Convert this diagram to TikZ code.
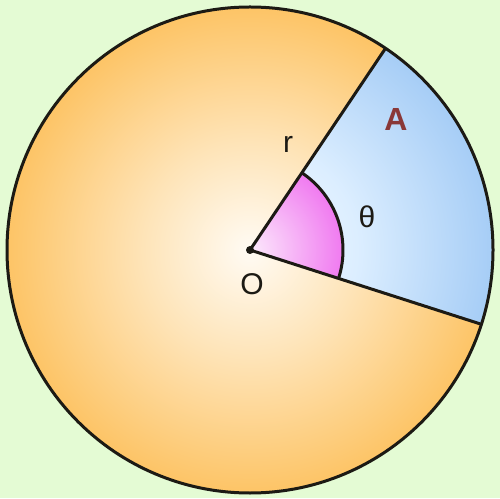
\documentclass[tikz,border=0pt]{standalone}
\usepackage{fontspec}
\setmainfont{Liberation Sans}
\definecolor{bgc}{HTML}{E4FBD4}
\definecolor{orc}{HTML}{FFFBF4}
\definecolor{orm}{HTML}{FEE4B8}
\definecolor{ore}{HTML}{FDC466}
\definecolor{blc}{HTML}{F4FAFF}
\definecolor{blm}{HTML}{DCEEFF}
\definecolor{ble}{HTML}{A6CDF6}
\definecolor{mgc}{HTML}{FCEAFC}
\definecolor{mge}{HTML}{F07AF0}
\definecolor{linec}{HTML}{1C1A14}
\definecolor{acol}{HTML}{8A3838}
\pgfdeclareradialshading{orangerad}{\pgfpoint{0bp}{0bp}}{color(0bp)=(orc); color(11bp)=(orm); color(25bp)=(ore); color(50bp)=(ore)}
\pgfdeclareradialshading{bluerad}{\pgfpoint{0bp}{0bp}}{color(0bp)=(blc); color(11bp)=(blm); color(25bp)=(ble); color(50bp)=(ble)}
\pgfdeclareradialshading{magrad}{\pgfpoint{0bp}{0bp}}{color(0bp)=(mgc); color(25bp)=(mge); color(50bp)=(mge)}
\tikzset{
  outline/.style={draw=linec, line width=3pt},
  lbl/.style={font=\fontsize{30}{36}\selectfont, text=linec, inner sep=0pt},
}
\begin{document}
\begin{tikzpicture}[x=1pt,y=1pt]
\useasboundingbox (0,0) rectangle (500,498);
\fill[bgc] (0,0) rectangle (500,498);
\coordinate (O) at (250,248);
\coordinate (P) at ([shift={(O)}]56.1:243);
\coordinate (Q) at ([shift={(O)}]-17.8:243);
\coordinate (P1) at ([shift={(O)}]56.1:93);
% orange disc
\shade[shading=orangerad] (O) circle (243);
% blue sector
\begin{scope}
  \clip (O) -- (P) arc (56.1:-17.8:243) -- cycle;
  \shade[shading=bluerad] (O) circle (243);
\end{scope}
% magenta angle
\begin{scope}
  \clip (O) -- (P1) arc (56.1:-17.8:93) -- cycle;
  \shade[shading=magrad] (O) circle (93);
\end{scope}
% outlines
\draw[outline] (O) circle (243);
\draw[outline] (P) -- (O) -- (Q);
\draw[outline] (P1) arc (56.1:-17.8:93);
\fill[linec] (O) circle (4);
% labels
\node[lbl] (r) at (288,354) {r};
\node[lbl, text=acol, font=\fontsize{32}{38}\selectfont\bfseries] (A) at (396,379) {A};
\node[lbl] (th) at (367,281) {θ};
\node[lbl] (o) at (252,214) {O};
\end{tikzpicture}
\end{document}
